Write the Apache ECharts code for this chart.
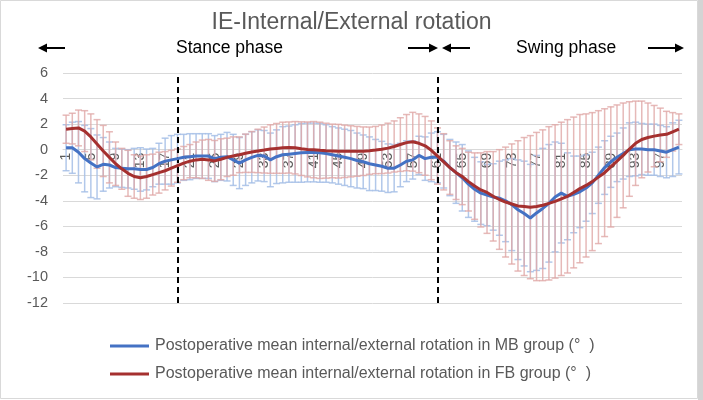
<!DOCTYPE html>
<html>
<head>
<meta charset="utf-8">
<script src="https://cdn.jsdelivr.net/npm/echarts@6/dist/echarts.min.js"></script>
<style>
html,body{margin:0;padding:0;background:#fff;}
#chart{width:703px;height:400px;}
</style>
</head>
<body>
<div id="chart"></div>
<script>
// Gait cycle percentage categories (1..100)
const categories = Array.from({length: 100}, (_, i) => String(i + 1));

// MB group mean internal/external rotation (°)
const mbMean = [
  0.15, 0.15, -0.2, -0.7, -1.05, -1.35, -1.15, -1.2, -1.4, -1.45,
  -1.5, -1.5, -1.55, -1.55, -1.4, -1.1, -0.9, -0.8, -0.7, -0.6,
  -0.55, -0.5, -0.5, -0.5, -0.7, -0.6, -0.55, -0.8, -1.05, -0.8,
  -0.6, -0.45, -0.5, -0.8, -0.55, -0.4, -0.35, -0.3, -0.25, -0.22,
  -0.22, -0.25, -0.3, -0.4, -0.5, -0.6, -0.7, -0.85, -0.95, -1.1,
  -1.2, -1.3, -1.45, -1.45, -1.2, -0.9, -0.8, -0.45, -0.7, -0.6,
  -0.6, -0.9, -1.4, -1.8, -2.2, -2.7, -3.1, -3.4, -3.55, -3.7,
  -3.8, -4.0, -4.3, -4.7, -5.0, -5.35, -4.95, -4.6, -4.2, -3.7,
  -3.4, -3.65, -3.5, -3.3, -3.0, -2.6, -2.0, -1.4, -0.95, -0.6,
  -0.3, 0.0, 0.05, 0.05, 0.0, 0.0, -0.1, -0.2, 0.0, 0.2
];
// MB group standard deviation
const mbSD = [
  1.8, 2.0, 2.4, 2.6, 2.7, 2.5, 2.1, 1.8, 1.5, 1.5,
  1.5, 1.6, 1.7, 1.6, 1.5, 1.6, 1.8, 1.9, 1.9, 1.8,
  1.8, 1.75, 1.75, 1.75, 1.8, 1.8, 1.9, 2.0, 2.0, 2.0,
  2.0, 2.0, 2.0, 2.1, 2.1, 2.2, 2.2, 2.25, 2.3, 2.3,
  2.3, 2.3, 2.25, 2.2, 2.2, 2.2, 2.2, 2.15, 2.1, 2.1,
  2.0, 1.95, 1.9, 1.85, 1.7, 1.6, 1.5, 1.5, 1.7, 1.9,
  2.0, 2.1, 2.2, 2.4, 2.6, 2.6, 2.5, 2.45, 2.4, 2.6,
  2.9, 3.2, 3.6, 3.9, 4.1, 4.2, 4.5, 4.7, 4.6, 4.3,
  3.9, 3.4, 3.0, 2.8, 2.6, 2.4, 2.2, 2.1, 2.0, 1.9,
  2.0, 2.1, 2.1, 2.0, 2.0, 2.0, 2.0, 2.0, 2.1, 2.1
];
// FB group mean internal/external rotation (°)
const fbMean = [
  1.6, 1.65, 1.7, 1.45, 1.0, 0.45, -0.1, -0.6, -1.1, -1.5,
  -1.85, -2.1, -2.2, -2.1, -1.95, -1.8, -1.65, -1.45, -1.25, -1.05,
  -0.9, -0.8, -0.75, -0.8, -0.88, -0.75, -0.6, -0.5, -0.4, -0.28,
  -0.18, -0.1, -0.03, 0.05, 0.1, 0.15, 0.17, 0.15, 0.08, 0.02,
  0.0, -0.05, -0.08, -0.1, -0.12, -0.13, -0.13, -0.13, -0.12, -0.08,
  -0.03, 0.03, 0.12, 0.25, 0.4, 0.55, 0.62, 0.5, 0.3, -0.05,
  -0.5, -0.95, -1.4, -1.8, -2.1, -2.5, -2.85, -3.15, -3.35, -3.65,
  -3.9, -4.1, -4.25, -4.4, -4.45, -4.5, -4.45, -4.35, -4.2, -4.05,
  -3.85, -3.65, -3.35, -3.05, -2.8, -2.5, -2.15, -1.8, -1.35, -0.9,
  -0.45, 0.05, 0.5, 0.8, 0.95, 1.06, 1.15, 1.2, 1.4, 1.6
];
// FB group standard deviation
const fbSD = [
  1.1, 1.2, 1.4, 1.6, 1.8, 1.9, 2.0, 2.0, 1.7, 1.6,
  1.8, 1.7, 1.7, 1.7, 1.6, 1.6, 1.5, 1.4, 1.3, 1.3,
  1.3, 1.4, 1.5, 1.6, 1.6, 1.6, 1.5, 1.5, 1.4, 1.5,
  1.6, 1.7, 1.8, 1.9, 1.95, 2.0, 2.0, 2.05, 2.1, 2.15,
  2.2, 2.2, 2.15, 2.1, 2.1, 2.05, 2.0, 1.95, 1.9, 1.85,
  1.85, 1.9, 1.95, 2.0, 2.1, 2.2, 2.3, 2.3, 2.3, 2.3,
  2.2, 2.2, 2.1, 2.1, 2.2, 2.3, 2.6, 2.9, 3.2, 3.5,
  3.9, 4.3, 4.7, 5.1, 5.4, 5.6, 5.8, 5.9, 6.0, 6.0,
  6.0, 6.0, 5.9, 5.8, 5.6, 5.4, 5.2, 5.0, 4.7, 4.4,
  4.1, 3.7, 3.3, 3.0, 2.7, 2.4, 2.1, 1.8, 1.5, 1.2
];
// Phase boundary categories (dashed lines)
const phaseBoundaries = ['19', '61'];

const mbName = 'Postoperative mean internal/external rotation in MB group (°  )';
const fbName = 'Postoperative mean internal/external rotation in FB group (°  )';

const FONT = '"Liberation Sans", Arial, sans-serif';
const TXT = '#595959';
const Y_MIN = -12, Y_MAX = 6, Y_STEP = 2;

function errData(mean, sd) {
  return mean.map((m, i) => [i, m - sd[i], m + sd[i]]);
}

function renderErr(color) {
  return function (params, api) {
    const x = api.value(0);
    const lo = api.coord([x, api.value(1)]);
    const hi = api.coord([x, api.value(2)]);
    const half = 3.5;
    const style = { stroke: color, lineWidth: 1.5 };
    return {
      type: 'group',
      children: [
        { type: 'line', shape: { x1: lo[0], y1: lo[1], x2: hi[0], y2: hi[1] }, style },
        { type: 'line', shape: { x1: hi[0] - half, y1: hi[1], x2: hi[0] + half, y2: hi[1] }, style },
        { type: 'line', shape: { x1: lo[0] - half, y1: lo[1], x2: lo[0] + half, y2: lo[1] }, style }
      ]
    };
  };
}

function arrow(x1, x2, y) {
  const dir = x2 > x1 ? 1 : -1;
  const head = 9;
  return {
    type: 'group',
    children: [
      { type: 'line', shape: { x1: x1, y1: y, x2: x2 - dir * head, y2: y }, style: { stroke: '#000', lineWidth: 2 } },
      { type: 'polygon', shape: { points: [[x2, y], [x2 - dir * head, y - 4.5], [x2 - dir * head, y + 4.5]] }, style: { fill: '#000' } }
    ]
  };
}

const chart = echarts.init(document.getElementById('chart'), null, { renderer: 'canvas' });
chart.setOption({
  backgroundColor: '#fff',
  animation: false,
  title: {
    text: 'IE-Internal/External rotation',
    left: 'center',
    top: 6,
    textStyle: { fontFamily: FONT, fontSize: 23, fontWeight: 'normal', color: TXT }
  },
  graphic: [
    { type: 'rect', shape: { x: 0.5, y: 0.5, width: 697, height: 398 }, style: { fill: 'none', stroke: '#d9d9d9', lineWidth: 1 }, silent: true },
    { type: 'rect', shape: { x: 698, y: 0, width: 5, height: 400 }, style: { fill: '#d4d4d4' }, silent: true },
    { type: 'text', left: 176, top: 39, style: { text: 'Stance phase', font: '17.5px ' + FONT, fill: '#000' } },
    { type: 'text', left: 516, top: 39, style: { text: 'Swing phase', font: '17.5px ' + FONT, fill: '#000' } },
    arrow(65, 38, 48),
    arrow(408, 438, 48),
    arrow(470, 442, 48),
    arrow(648, 684, 48)
  ],
  legend: {
    orient: 'vertical',
    left: 105,
    top: 333,
    itemGap: 12,
    itemWidth: 39,
    itemHeight: 3,
    icon: 'rect',
    data: [mbName, fbName],
    textStyle: { fontFamily: FONT, fontSize: 16, color: TXT, padding: [0, 0, 0, 1] }
  },
  grid: { left: 63, right: 21, top: 73, bottom: 97, containLabel: false },
  xAxis: {
    type: 'category',
    data: categories,
    boundaryGap: true,
    axisLine: { onZero: false, lineStyle: { color: '#d9d9d9' } },
    axisTick: { show: false },
    axisLabel: { interval: 3, rotate: 90, margin: 3, fontFamily: FONT, fontSize: 14, color: TXT },
    splitLine: { show: false }
  },
  yAxis: {
    type: 'value',
    min: Y_MIN,
    max: Y_MAX,
    interval: Y_STEP,
    axisLine: { show: false },
    axisTick: { show: false },
    axisLabel: { margin: 15, fontFamily: FONT, fontSize: 14.5, color: TXT },
    splitLine: { lineStyle: { color: '#d9d9d9', width: 1 } }
  },
  series: [
    {
      name: 'mbErr', type: 'custom', z: 1,
      renderItem: renderErr('rgba(165,190,230,0.85)'),
      encode: { x: 0, y: [1, 2] },
      data: errData(mbMean, mbSD), silent: true
    },
    {
      name: 'fbErr', type: 'custom', z: 2,
      renderItem: renderErr('rgba(224,168,166,0.8)'),
      encode: { x: 0, y: [1, 2] },
      data: errData(fbMean, fbSD), silent: true
    },
    {
      name: mbName, type: 'line', z: 5, data: mbMean, symbol: 'none', smooth: false,
      color: '#4472C4', lineStyle: { width: 3, color: '#4472C4' }
    },
    {
      name: fbName, type: 'line', z: 6, data: fbMean, symbol: 'none', smooth: false,
      color: '#A5302F', lineStyle: { width: 3, color: '#A5302F' },
      markLine: {
        silent: true, symbol: 'none', label: { show: false },
        lineStyle: { color: '#000', type: [6, 4], width: 2 },
        data: phaseBoundaries.map(c => ({ xAxis: c }))
      }
    }
  ]
});
// Move the category axis (line + labels) to cross the value axis at 0, like the original
const yZero = chart.convertToPixel({ yAxisIndex: 0 }, 0);
const yBottom = chart.convertToPixel({ yAxisIndex: 0 }, Y_MIN);
chart.setOption({ xAxis: { offset: yZero - yBottom } });
</script>
</body>
</html>
